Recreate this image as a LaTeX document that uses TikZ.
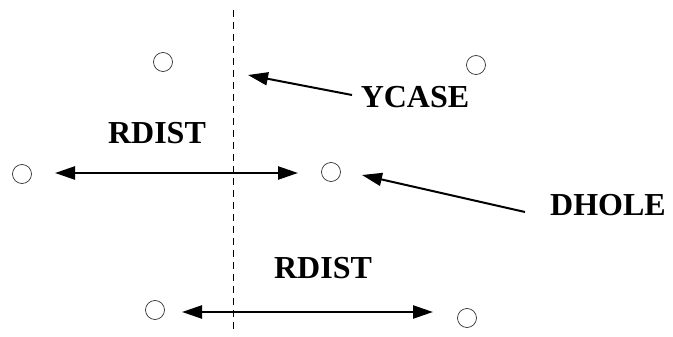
\documentclass[tikz,border=0pt]{standalone}
\usepackage{fontspec}
\setmainfont{Liberation Serif}
\usetikzlibrary{arrows.meta}
\begin{document}
\begin{tikzpicture}[x=1pt,y=-1pt,
  hole/.style={draw=black!80,line width=0.7pt,circle,minimum size=19pt,inner sep=0pt},
  lbl/.style={font=\bfseries\fontsize{32}{32}\selectfont,inner sep=0pt},
  dim/.style={line width=2.4pt,{Triangle[length=20pt,width=13pt]}-{Triangle[length=20pt,width=13pt]}},
  ptr/.style={line width=2pt,-{Triangle[length=20pt,width=13pt]}},
  axis/.style={line width=0.7pt,dash pattern=on 7pt off 5pt}]
\useasboundingbox (0,0) rectangle (673,337);
% holes
\node[hole] (h1) at (163,62) {};
\node[hole] (h2) at (476,65) {};
\node[hole] (h3) at (22,174) {};
\node[hole] (h4) at (331,172) {};
\node[hole] (h5) at (155,310) {};
\node[hole] (h6) at (467,318) {};
% dashed axis
\coordinate (axtop) at (233,10);
\coordinate (axbot) at (233,333);
\draw[axis] (axtop) -- (axbot);
% labels
\node[lbl] (r1) at (157,133) {RDIST};
\node[lbl] (r2) at (323,268) {RDIST};
\node[lbl] (yc) at (415,97) {YCASE};
\node[lbl] (dh) at (608,205) {DHOLE};
% dimension arrows
\coordinate (a1) at (55,173);
\coordinate (a2) at (298,173);
\draw[dim] (a1) -- (a2);
\coordinate (b1) at (182,312);
\coordinate (b2) at (433,312);
\draw[dim] (b1) -- (b2);
% pointers
\coordinate (yt) at (352,95);
\coordinate (yh) at (248,75);
\draw[ptr] (yt) -- (yh);
\coordinate (dt) at (525,212);
\coordinate (dhh) at (362,175);
\draw[ptr] (dt) -- (dhh);
\end{tikzpicture}
\end{document}
